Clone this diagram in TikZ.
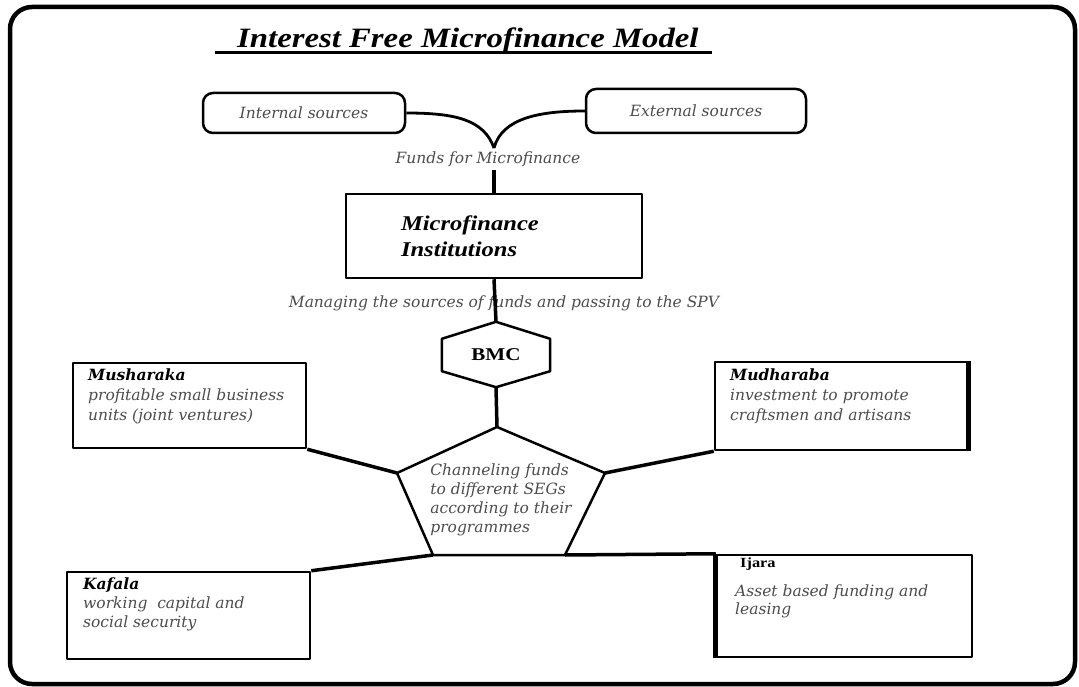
\documentclass[tikz,border=0pt]{standalone}
\usepackage{fontspec}
\setmainfont{DejaVu Serif}
\newfontfamily\timesfont{Liberation Serif}[FakeStretch=1.17]
\usepackage{tikz}

\begin{document}
\begin{tikzpicture}[
    x=1pt, y=-1pt,
    line join=round,
    src/.style={draw, line width=2.5pt, rounded corners=10pt, font=\fontsize{15.5}{20}\selectfont\itshape, text=black!70},
    box/.style={draw, line width=2.5pt, inner sep=0pt},
    lbl/.style={font=\fontsize{15.5}{20}\selectfont\itshape, text=black!70},
    txt/.style={font=\fontsize{15.5}{20}\selectfont\itshape, text=black!70, align=left, inner sep=0pt, anchor=north west},
    head/.style={font=\timesfont\fontsize{21}{26}\selectfont\bfseries\itshape},
    poly/.style={draw, line width=2.5pt},
    link/.style={line width=3.5pt},
    curve/.style={line width=2.8pt}
  ]
    \useasboundingbox (0,0) rectangle (1079,687);

    % Frame and title
    \draw[line width=4.5pt, rounded corners=22pt] (10,7) rectangle (1075,684);
    \node[anchor=base west, inner sep=0pt, font=\timesfont\fontsize{28}{32}\selectfont\bfseries\itshape] (t1) at (237,48) {Interest Free Microfinance Model};
    \draw[line width=3pt] ([shift={(-22,5)}]t1.base west) -- ([shift={(13,5)}]t1.base east);

    % Sources of funds
    \node[src, minimum width=202pt, minimum height=40pt] (s1) at (304,113) {Internal sources};
    \node[src, minimum width=220pt, minimum height=44pt] (s2) at (696,111) {External sources};
    \coordinate (v1) at (494,148);
    \node[lbl] (f1) at (488,159) {Funds for Microfinance};

    % Institutions
    \node[box, head, minimum width=296pt, minimum height=84pt, text width=186pt, align=left] (m1) at (494,236) {Microfinance\\Institutions};
    \node[lbl] (l1) at (504,303) {Managing the sources of funds and passing to the SPV};

    % BMC hexagon
    \node[inner sep=0pt, minimum width=108pt, minimum height=32pt, font=\timesfont\fontsize{18}{20}\selectfont\bfseries] (h1) at (496,355) {BMC};
    \draw[poly] (h1.north west) -- ([yshift=17pt]h1.north) coordinate (h1t) -- (h1.north east) -- (h1.south east) -- ([yshift=-16pt]h1.south) coordinate (h1b) -- (h1.south west) -- cycle;

    % Channeling pentagon
    \coordinate (p1t) at (497,427);
    \coordinate (p1l) at (397,473);
    \coordinate (p1r) at (605,473);
    \coordinate (p1bl) at (433,555);
    \coordinate (p1br) at (565,555);
    \draw[poly] (p1t) -- (p1r) -- (p1br) -- (p1bl) -- (p1l) -- cycle;
    \node[lbl, align=left, font=\fontsize{15.5}{19}\selectfont\itshape] (p1) at (501,500) {Channeling funds\\to different SEGs\\according to their\\programmes};

    % SEG units
    \node[box, minimum width=233pt, minimum height=85pt] (u1) at (189.5,405.5) {};
    \node[txt] (n1) at (88,369) {\textcolor{black}{\bfseries Musharaka}\\profitable small business\\units (joint ventures)};
    \node[box, minimum width=252pt, minimum height=88pt] (u2) at (841,406) {};
    \node[txt] (n2) at (730,369) {\textcolor{black}{\bfseries Mudharaba}\\investment to promote\\craftsmen and artisans};
    \node[box, minimum width=243pt, minimum height=87pt] (u3) at (188.5,615.5) {};
    \node[txt, font=\fontsize{15.5}{19}\selectfont\itshape] (n3) at (83,578) {\textcolor{black}{\bfseries Kafala}\\working~ capital and\\social security};
    \node[box, minimum width=255pt, minimum height=102pt] (u4) at (844.5,606) {};
    \node[anchor=north west, inner sep=0pt, font=\timesfont\fontsize{14}{16}\selectfont\bfseries] (n4) at (740,558) {Ijara};
    \node[txt, font=\fontsize{15.5}{18}\selectfont\itshape] (n5) at (735,585) {Asset based funding and\\leasing};
    \draw[line width=5pt] (u2.north east) -- (u2.south east);
    \draw[line width=5pt] (u4.north west) -- (u4.south west);

    % Connections
    \draw[curve] (s1.east) .. controls +(50,0) and +(-10,-28) .. (v1);
    \draw[curve] (s2.west) .. controls +(-45,0) and +(8,-30) .. (v1);
    \draw[link] (f1.south -| m1.north) -- (m1.north);
    \draw[link] (m1.south) -- (h1t);
    \draw[link] (h1b) -- (p1t);
    \draw[link] (u1.south east) -- (p1l);
    \draw[link] (p1r) -- (u2.south west);
    \draw[link] (u3.north east) -- (p1bl);
    \draw[link] (p1br) -- (u4.north west);
  \end{tikzpicture}
\end{document}
